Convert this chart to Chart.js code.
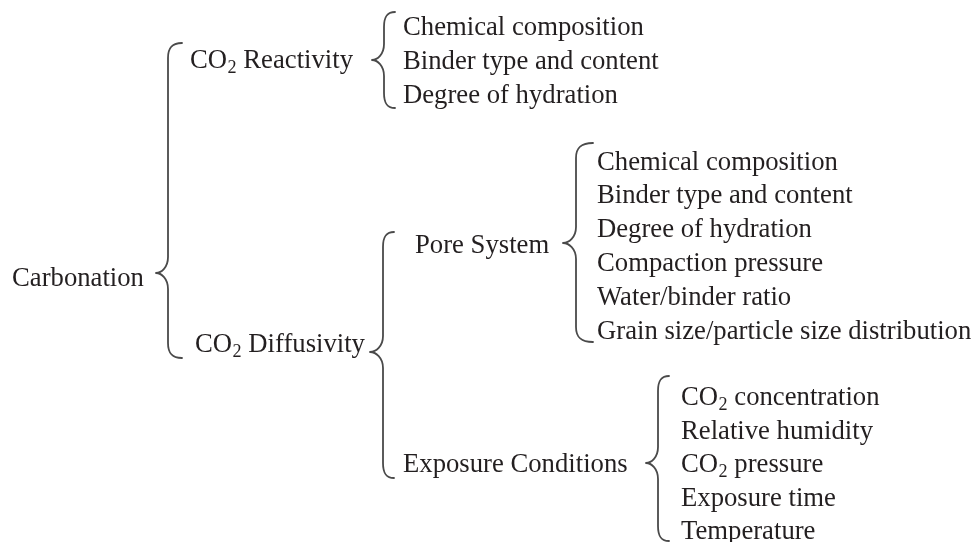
<!DOCTYPE html>
<html>
<head>
<meta charset="utf-8">
<script src="https://cdn.jsdelivr.net/npm/chart.js@4/dist/chart.umd.min.js"></script>
<style>
  html, body { margin: 0; padding: 0; background: #ffffff; }
  #wrap { width: 978px; height: 542px; }
</style>
</head>
<body>
<div id="wrap"><canvas id="c" width="978" height="542"></canvas></div>
<script>
// ---- Diagram content (text nodes) ----
const nodeLabels = [
  'Carbonation',
  'CO₂ Reactivity',
  'CO₂ Diffusivity',
  'Chemical composition', 'Binder type and content', 'Degree of hydration',
  'Pore System',
  'Exposure Conditions',
  'Chemical composition', 'Binder type and content', 'Degree of hydration',
  'Compaction pressure', 'Water/binder ratio', 'Grain size/particle size distribution',
  'CO₂ concentration', 'Relative humidity', 'CO₂ pressure', 'Exposure time', 'Temperature'
];
// left edge (x) and baseline (y) of each node, in diagram units
const nodeX = [12, 190, 195, 403, 403, 403, 415, 403, 597, 597, 597, 597, 597, 597, 681, 681, 681, 681, 681];
const nodeY = [286, 68, 352, 35, 69, 103, 253, 472, 170, 203, 237, 271, 305, 339, 405, 439, 472, 506, 539];

// ---- Braces: Carbonation, Reactivity, Diffusivity, Pore System, Exposure ----
const braceTipX  = [156, 372, 370, 563, 646];
const braceVertX = [168, 384, 383, 576, 658];
const braceEndX  = [182, 395, 394, 593, 669];
const braceTop   = [43, 12, 232, 143, 376];
const braceTip   = [273, 60, 352, 243, 463];
const braceBot   = [358, 108, 478, 342, 541];

const FONT_SIZE = 26.7;
const FONT_FAMILY = '"Liberation Serif", "Times New Roman", serif';
const TEXT_COLOR = '#231f20';
const BRACE_COLOR = '#4a4a4a';

function drawRich(ctx, text, x, y) {
  const parts = text.split('₂');
  let cx = x;
  ctx.textBaseline = 'alphabetic';
  ctx.textAlign = 'left';
  for (let i = 0; i < parts.length; i++) {
    ctx.font = FONT_SIZE + 'px ' + FONT_FAMILY;
    ctx.fillText(parts[i], cx, y);
    cx += ctx.measureText(parts[i]).width;
    if (i < parts.length - 1) {
      ctx.font = (FONT_SIZE * 0.68) + 'px ' + FONT_FAMILY;
      ctx.fillText('2', cx + 0.5, y + FONT_SIZE * 0.2);
      cx += ctx.measureText('2').width + 0.5;
    }
  }
}

const treePlugin = {
  id: 'tree',
  afterDatasetsDraw(chart) {
    const ctx = chart.ctx;
    const xs = chart.scales.x, ys = chart.scales.y;
    // braces
    ctx.save();
    ctx.strokeStyle = BRACE_COLOR;
    ctx.lineWidth = 1.8;
    ctx.lineCap = 'round';
    ctx.lineJoin = 'round';
    for (let i = 0; i < braceTop.length; i++) {
      const tx = xs.getPixelForValue(braceTipX[i]);
      const vx = xs.getPixelForValue(braceVertX[i]);
      const ex = xs.getPixelForValue(braceEndX[i]);
      const t = ys.getPixelForValue(braceTop[i]);
      const m = ys.getPixelForValue(braceTip[i]);
      const b = ys.getPixelForValue(braceBot[i]);
      const r = Math.min(15, (m - t) / 3, (b - m) / 3);
      const rt = Math.min(16, (m - t) / 3, (b - m) / 3);
      ctx.beginPath();
      ctx.moveTo(ex, t);
      ctx.bezierCurveTo(vx + (ex - vx) * 0.25, t, vx, t + r * 0.35, vx, t + r);
      ctx.lineTo(vx, m - rt);
      ctx.bezierCurveTo(vx, m - rt * 0.35, tx + (vx - tx) * 0.45, m, tx, m);
      ctx.bezierCurveTo(tx + (vx - tx) * 0.45, m, vx, m + rt * 0.35, vx, m + rt);
      ctx.lineTo(vx, b - r);
      ctx.bezierCurveTo(vx, b - r * 0.35, vx + (ex - vx) * 0.25, b, ex, b);
      ctx.stroke();
    }
    ctx.restore();
    // text nodes at the dataset's points
    ctx.save();
    ctx.fillStyle = TEXT_COLOR;
    const meta = chart.getDatasetMeta(0);
    meta.data.forEach((pt, i) => {
      drawRich(ctx, nodeLabels[i], pt.x, pt.y);
    });
    ctx.restore();
  }
};

new Chart(document.getElementById('c'), {
  type: 'scatter',
  data: {
    datasets: [{
      data: nodeX.map((x, i) => ({ x: x, y: nodeY[i] })),
      pointRadius: 0,
      pointHoverRadius: 0,
      showLine: false
    }]
  },
  options: {
    responsive: false,
    animation: false,
    events: [],
    layout: { padding: 0 },
    plugins: { legend: { display: false }, tooltip: { enabled: false } },
    scales: {
      x: { type: 'linear', min: 0, max: 978, display: false },
      y: { type: 'linear', min: 0, max: 542, reverse: true, display: false }
    }
  },
  plugins: [treePlugin]
});
</script>
</body>
</html>
